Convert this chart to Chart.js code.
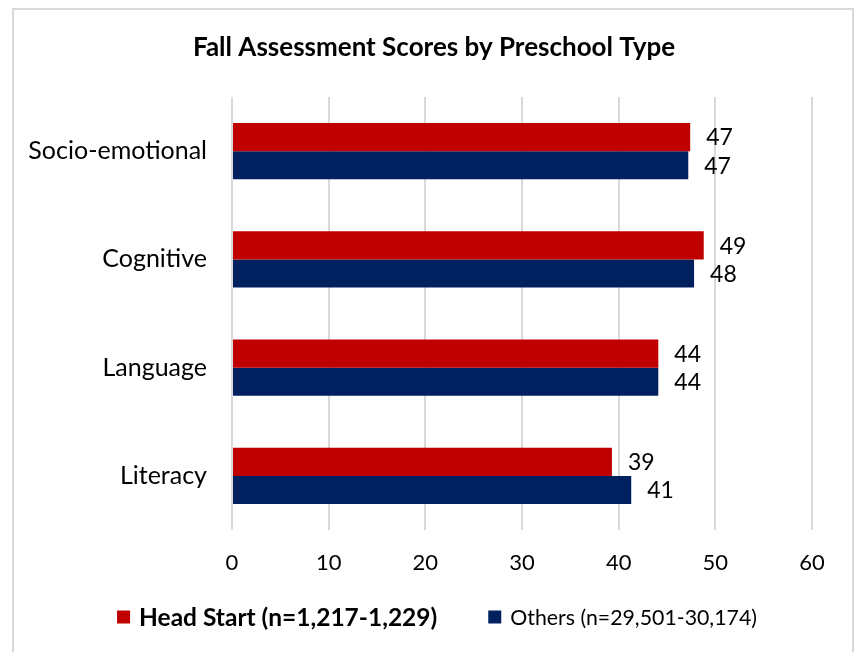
<!DOCTYPE html>
<html>
<head>
<meta charset="utf-8">
<script src="https://cdn.jsdelivr.net/npm/chart.js@4.4.0/dist/chart.umd.min.js"></script>
<style>
  html, body { margin: 0; padding: 0; background: #fff; }
  #frame {
    position: absolute; left: 12px; top: 8px; width: 842px; height: 660px;
    border: 2px solid #d9d9d9; box-sizing: border-box;
  }
  #wrap { position: absolute; left: 0; top: 0; width: 859px; height: 652px; }
</style>
</head>
<body>
<div id="frame"></div>
<div id="wrap"><canvas id="chart" width="859" height="652"></canvas></div>
<script>
// Chart data
const categories = ['Socio-emotional', 'Cognitive', 'Language', 'Literacy'];
const headStart = [47.4, 48.8, 44.1, 39.3];
const others = [47.2, 47.8, 44.1, 41.3];
const seriesNames = ['Head Start (n=1,217-1,229)', 'Others (n=29,501-30,174)'];
const xTicks = [0, 10, 20, 30, 40, 50, 60];
const chartTitle = 'Fall Assessment Scores by Preschool Type';

const FONT = "Lato, 'Open Sans', sans-serif";

/**
 * Title centred on the frame rather than the padded area
 */
const frameTitle = {
    id: 'frameTitle',
    afterDraw(chart) {
        const ctx = chart.ctx;
        ctx.save();
        ctx.font = `bold 26px ${FONT}`;
        ctx.fillStyle = '#000';
        ctx.textAlign = 'center';
        ctx.textBaseline = 'middle';
        ctx.fillText(chartTitle, 434, 48);
        ctx.restore();
    }
};

/**
 * Value labels just past the end of each bar
 */
const valueLabels = {
    id: 'valueLabels',
    afterDatasetsDraw(chart) {
        const ctx = chart.ctx;
        ctx.save();
        ctx.font = `23px ${FONT}`;
        ctx.fillStyle = '#000';
        ctx.textAlign = 'left';
        ctx.textBaseline = 'middle';
        chart.data.datasets.forEach((ds, i) => {
            chart.getDatasetMeta(i).data.forEach((bar, j) => {
                ctx.fillText(Math.round(ds.data[j]), bar.x + 16, bar.y + 1);
            });
        });
        ctx.restore();
    }
};

/**
 * Legend at the bottom, first entry in bold
 */
const bottomLegend = {
    id: 'bottomLegend',
    afterDraw(chart) {
        const ctx = chart.ctx;
        const y = 617;
        const box = 13;
        const gap = 9;
        const spacing = 51;
        ctx.save();
        const items = chart.data.datasets.map((ds, i) => {
            const font = i === 0 ? `bold 24.5px ${FONT}` : `21.3px ${FONT}`;
            ctx.font = font;
            return { font, text: ds.label, color: ds.backgroundColor, w: ctx.measureText(ds.label).width };
        });
        let total = items.reduce((s, it) => s + box + gap + it.w, 0) + spacing * (items.length - 1);
        let x = 437 - total / 2;
        items.forEach(it => {
            ctx.fillStyle = it.color;
            ctx.fillRect(x, y - box / 2, box, box);
            x += box + gap;
            ctx.font = it.font;
            ctx.fillStyle = '#000';
            ctx.textAlign = 'left';
            ctx.textBaseline = 'middle';
            ctx.fillText(it.text, x, y + 1);
            x += it.w + spacing;
        });
        ctx.restore();
    }
};

new Chart(document.getElementById('chart'), {
    type: 'bar',
    data: {
        labels: categories,
        datasets: [
            {
                label: seriesNames[0],
                data: headStart,
                backgroundColor: '#c00000',
                borderWidth: 0
            },
            {
                label: seriesNames[1],
                data: others,
                backgroundColor: '#002060',
                borderWidth: 0
            }
        ]
    },
    options: {
        indexAxis: 'y',
        responsive: false,
        animation: false,
        categoryPercentage: 0.52,
        barPercentage: 1.0,
        layout: {
            padding: { left: 0, right: 47, top: 97, bottom: 62 }
        },
        plugins: {
            legend: { display: false },
            tooltip: { enabled: false },
            title: { display: false }
        },
        scales: {
            x: {
                min: 0,
                max: 60,
                afterBuildTicks(scale) {
                    scale.ticks = xTicks.map(v => ({ value: v }));
                },
                afterFit(scale) {
                    scale.height = 60;
                },
                grid: { color: '#d9d9d9', lineWidth: 2, drawTicks: false },
                border: { display: false },
                ticks: {
                    color: '#000',
                    padding: 20,
                    font: { family: FONT, size: 22 }
                }
            },
            y: {
                afterFit(scale) {
                    scale.width = 232;
                },
                grid: { display: false, drawTicks: false },
                border: { display: false },
                ticks: {
                    color: '#000',
                    padding: 25,
                    font: { family: FONT, size: 25 }
                }
            }
        }
    },
    plugins: [valueLabels, bottomLegend, frameTitle]
});
</script>
</body>
</html>
